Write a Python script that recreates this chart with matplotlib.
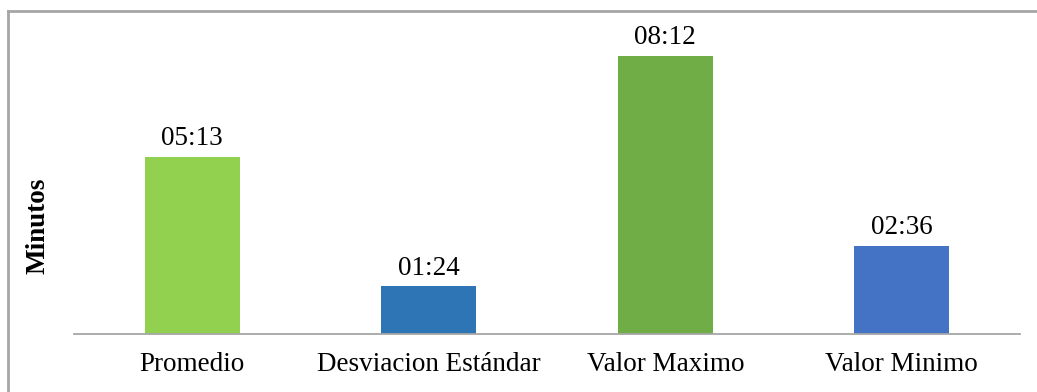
import matplotlib.pyplot as plt
from matplotlib.lines import Line2D


categories = ["Promedio", "Desviacion Estándar", "Valor Maximo", "Valor Minimo"]
tiempos = ["05:13", "01:24", "08:12", "02:36"]
colores = ["#92D050", "#2E75B6", "#70AD47", "#4472C4"]


def a_segundos(texto):
    minutos, segundos = texto.split(":")
    return int(minutos) * 60 + int(segundos)


valores = [a_segundos(t) for t in tiempos]

plt.rcParams['font.family'] = ['Liberation Serif', 'DejaVu Serif']

fig = plt.figure(figsize=(10.37, 3.92), dpi=100)
ax = fig.add_axes([0.0714, 0.148, 0.9122, 0.779])

x = range(len(categories))
barras = ax.bar(x, valores, width=0.40, color=colores)

for barra, texto in zip(barras, tiempos):
    ax.annotate(texto, (barra.get_x() + barra.get_width() / 2, barra.get_height()),
                xytext=(0, 4), textcoords="offset points",
                ha="center", va="bottom", fontsize=19.5)

ax.set_xlim(-0.5, 3.5)
ax.set_ylim(0, 540)
ax.set_xticks(list(x))
ax.set_xticklabels(categories, fontsize=19.5)
ax.tick_params(axis="x", length=0, pad=13)
ax.set_yticks([])
ax.set_ylabel("Minutos", fontsize=19.5, fontweight="bold")
ax.yaxis.set_label_coords(-0.025, 0.354)

for lado in ["top", "right", "left"]:
    ax.spines[lado].set_visible(False)
ax.spines["bottom"].set_color("#A6A6A6")
ax.spines["bottom"].set_linewidth(1.3)

# marco gris del grafico (solo arriba y a la izquierda)
fig.add_artist(Line2D([8 / 1037, 1.0], [1 - 11 / 392, 1 - 11 / 392],
                      transform=fig.transFigure, color="#A6A6A6", linewidth=2))
fig.add_artist(Line2D([8 / 1037, 8 / 1037], [0.0, 1 - 11 / 392],
                      transform=fig.transFigure, color="#A6A6A6", linewidth=2))

fig.savefig("out.png", dpi=100)
